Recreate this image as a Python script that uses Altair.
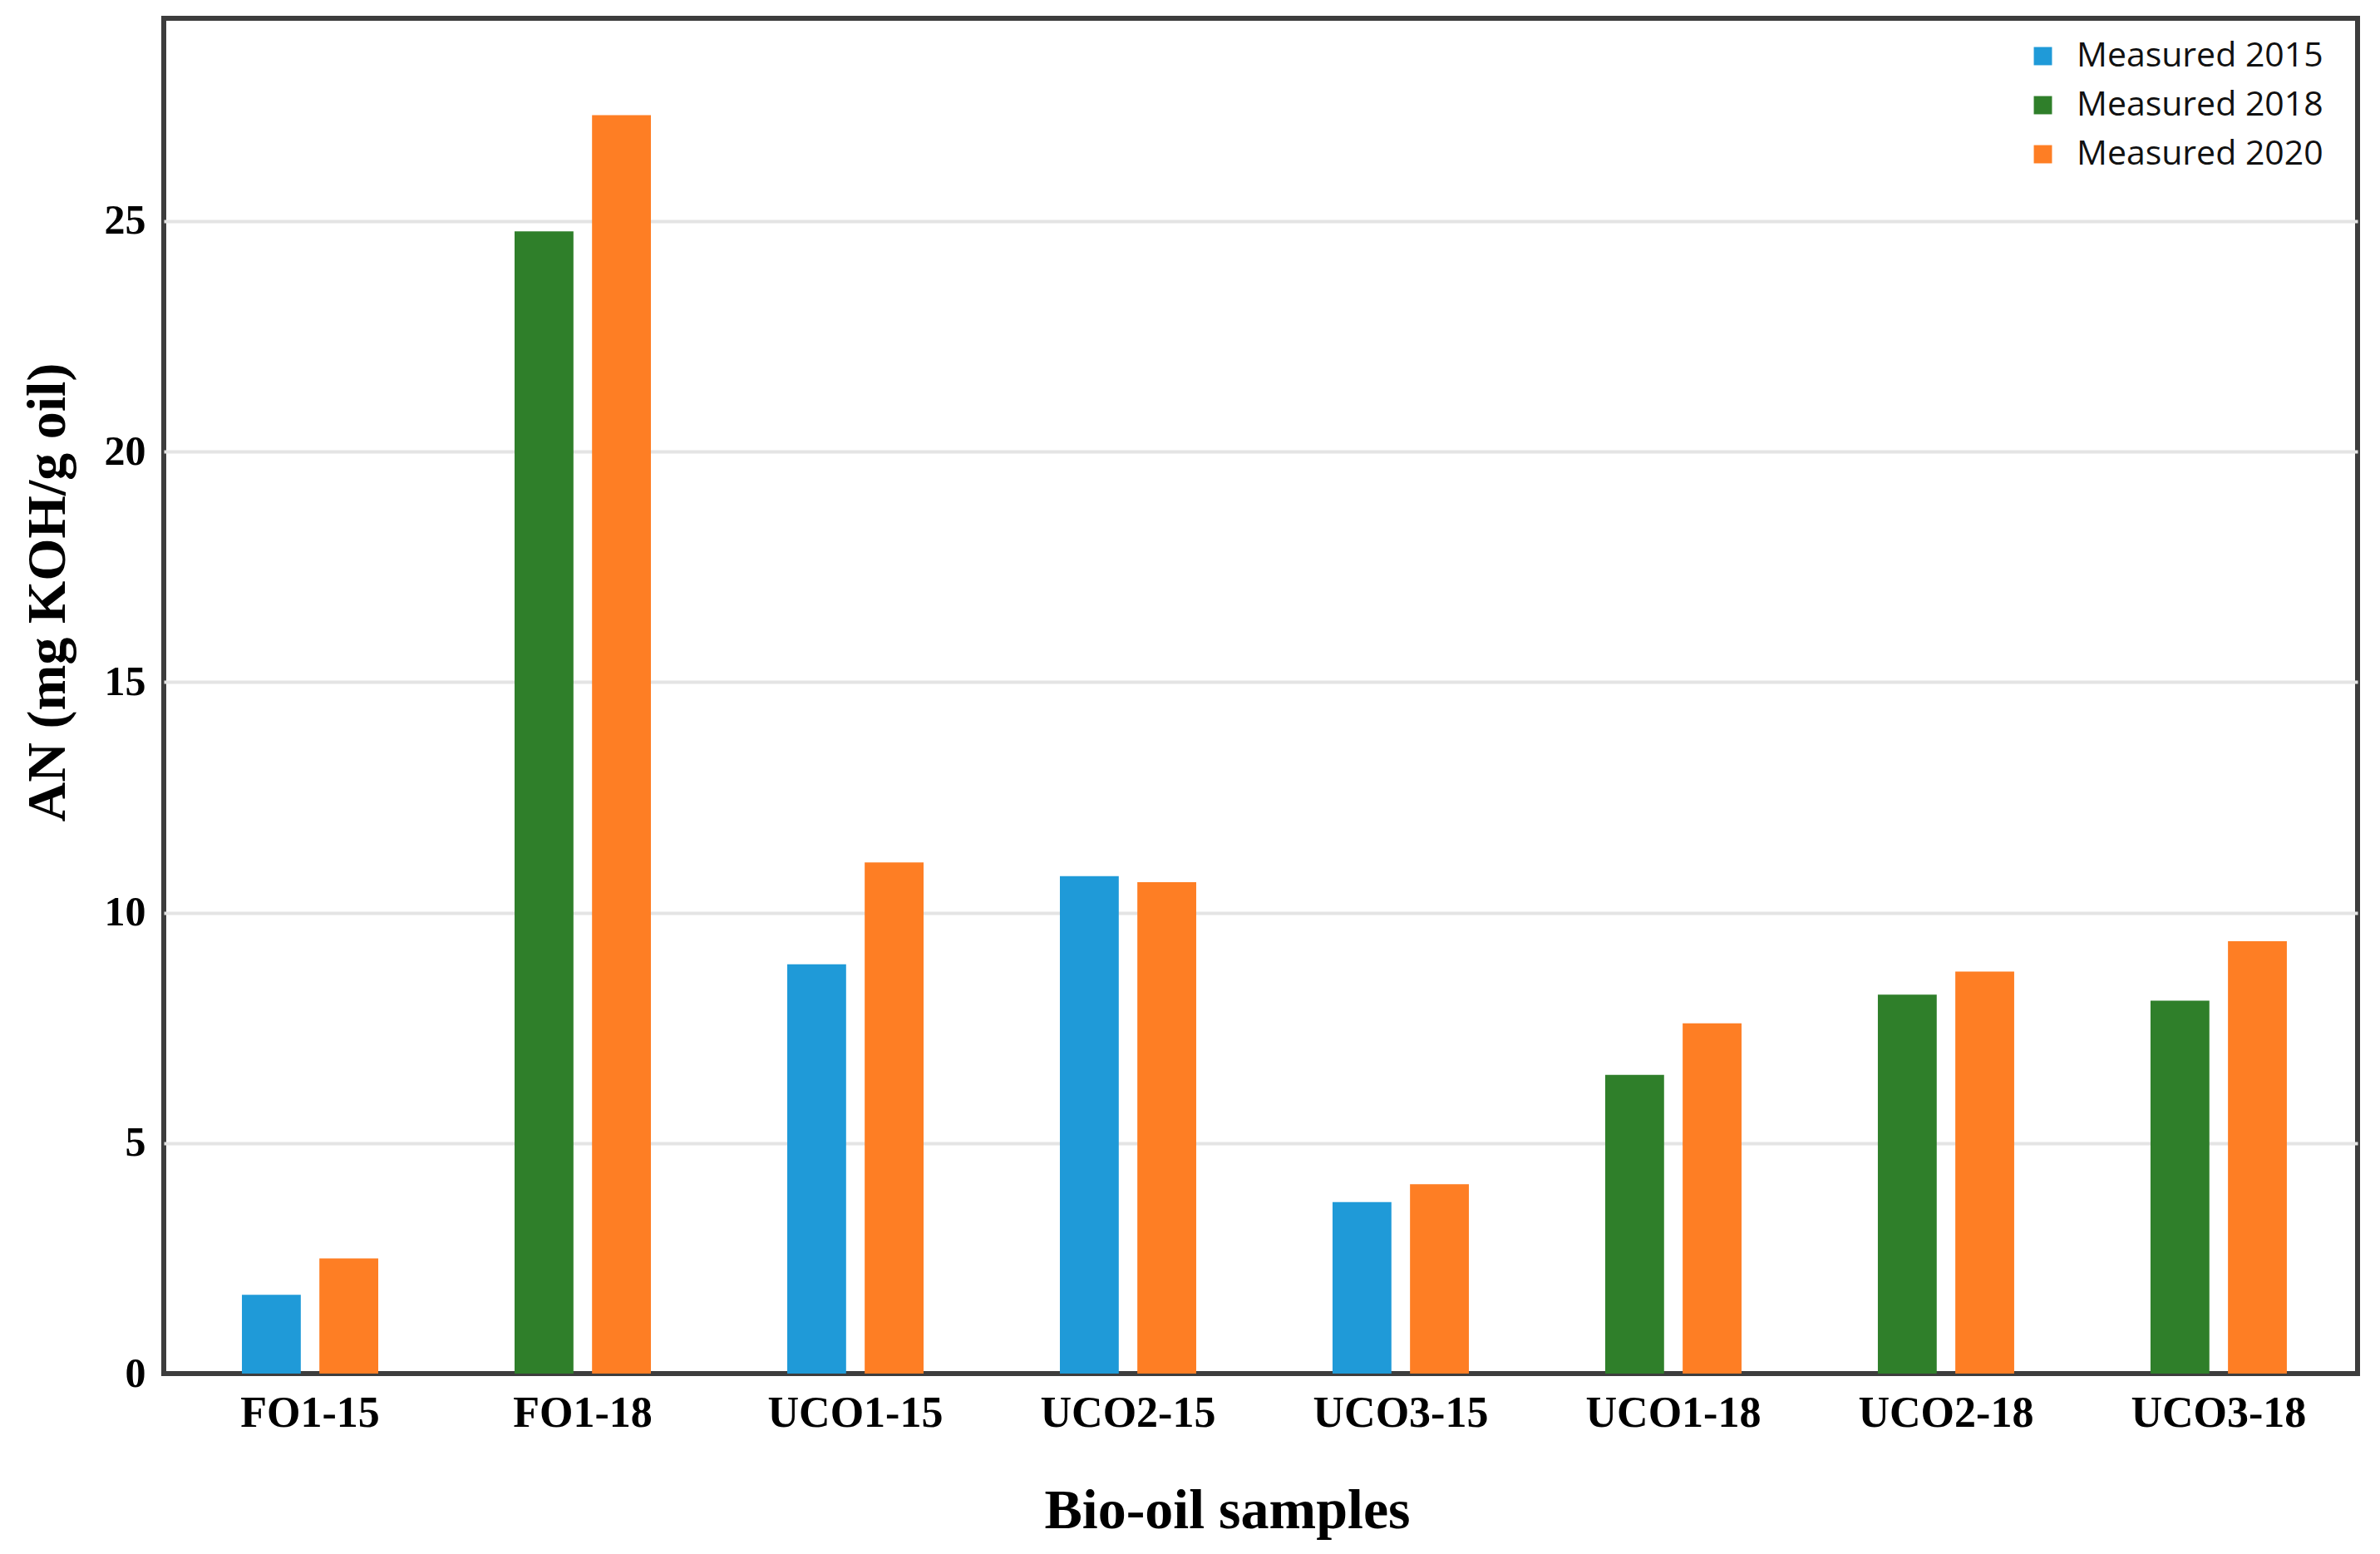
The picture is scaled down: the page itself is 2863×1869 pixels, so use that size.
import altair as alt
import pandas as pd

samples = ["FO1-15", "FO1-18", "UCO1-15", "UCO2-15", "UCO3-15", "UCO1-18", "UCO2-18", "UCO3-18"]
first_series = ["Measured 2015", "Measured 2018", "Measured 2015", "Measured 2015",
                "Measured 2015", "Measured 2018", "Measured 2018", "Measured 2018"]
first_values = [1.71, 24.78, 8.88, 10.79, 3.72, 6.48, 8.22, 8.09]
values_2020 = [2.50, 27.30, 11.09, 10.66, 4.11, 7.60, 8.72, 9.38]

series_names = ["Measured 2015", "Measured 2018", "Measured 2020"]
series_colors = ["#1f9ad8", "#2f7f2a", "#fe7e24"]
y_ticks = [0, 5, 10, 15, 20, 25]

rows = []
for s, fs, fv, v20 in zip(samples, first_series, first_values, values_2020):
    rows.append({"sample": s, "series": fs, "value": fv, "slot": 0})
    rows.append({"sample": s, "series": "Measured 2020", "value": v20, "slot": 1})
df = pd.DataFrame(rows)

serif = "Liberation Serif"

chart = alt.Chart(df).mark_bar().encode(
    x=alt.X("sample:N", sort=samples,
            scale=alt.Scale(paddingInner=0.5, paddingOuter=0.273, align=0.525),
            axis=alt.Axis(title="Bio-oil samples", labelAngle=0, domain=False, ticks=False,
                          labelFont=serif, labelFontWeight="bold", labelFontSize=52,
                          labelColor="#000000", labelPadding=22, labelLimit=0,
                          titleFont=serif, titleFontWeight="bold", titleFontSize=68,
                          titleColor="#000000", titlePadding=58, titleX=1279)),
    xOffset=alt.XOffset("slot:O", scale=alt.Scale(paddingInner=0.24, paddingOuter=0)),
    y=alt.Y("value:Q",
            scale=alt.Scale(domain=[0, 29.4], nice=False),
            axis=alt.Axis(title="AN (mg KOH/g oil)", values=y_ticks, domain=False, ticks=False,
                          grid=True,
                          gridColor=alt.condition("datum.value == 0", alt.value("transparent"),
                                                  alt.value("#e4e4e4")),
                          gridWidth=4,
                          labelFont=serif, labelFontWeight="bold", labelFontSize=50,
                          labelColor="#000000", labelPadding=22,
                          titleFont=serif, titleFontWeight="bold", titleFontSize=66,
                          titleColor="#000000", titlePadding=34, titleY=690)),
    color=alt.Color("series:N",
                    scale=alt.Scale(domain=series_names, range=series_colors),
                    legend=alt.Legend(title=None, orient="none", legendX=2240, legendY=25,
                                      symbolType="square", symbolSize=480, symbolStrokeWidth=0,
                                      labelFont="Open Sans", labelFontSize=41, labelColor="#111111",
                                      labelOffset=20, rowPadding=17, labelLimit=0)),
).properties(
    width=2639,
    height=1630,
    background="#ffffff",
    autosize=alt.AutoSizeParams(type="none"),
    padding={"left": 189, "top": 14, "right": 16, "bottom": 200},
).configure_view(
    stroke="#3d3d3d", strokeWidth=6
)

chart.save("out.html", embed_options={"renderer": "svg", "actions": False})
